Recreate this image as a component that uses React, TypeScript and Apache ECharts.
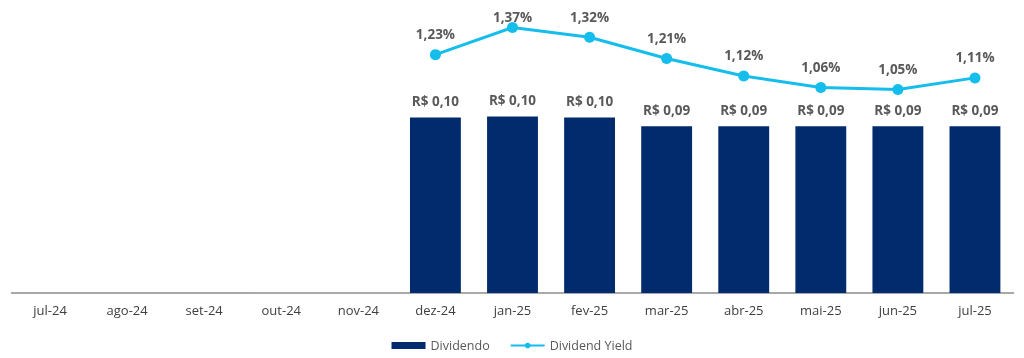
import React, { useEffect, useRef } from "react";
import * as echarts from "echarts";

const categories = ["jul-24", "ago-24", "set-24", "out-24", "nov-24", "dez-24", "jan-25", "fev-25", "mar-25", "abr-25", "mai-25", "jun-25", "jul-25"];
const dividendo: (number | null)[] = [null, null, null, null, null, 0.1, 0.1005, 0.1, 0.0949, 0.0949, 0.0949, 0.0949, 0.0949];
const dividendLabels = ["", "", "", "", "", "R$ 0,10", "R$ 0,10", "R$ 0,10", "R$ 0,09", "R$ 0,09", "R$ 0,09", "R$ 0,09", "R$ 0,09"];
const dividendYield: (number | null)[] = [null, null, null, null, null, 1.23, 1.37, 1.32, 1.21, 1.12, 1.06, 1.05, 1.11];

const FONT = "'Open Sans', 'Liberation Sans', sans-serif";

export default function App() {
  const ref = useRef<HTMLDivElement>(null);
  useEffect(() => {
    if (!ref.current) return;
    const chart = echarts.init(ref.current, undefined, { renderer: "svg" });
    const maxYield = Math.max(...(dividendYield.filter((v) => v != null) as number[]));
    const yieldData = dividendYield.map((v) =>
      v === maxYield ? { value: v, label: { distance: -2 } } : v
    );
    chart.setOption({
      animation: false,
      textStyle: { fontFamily: FONT },
      grid: { left: 11.5, right: 10.5, top: 12, bottom: 65 },
      legend: {
        bottom: 1,
        left: "center",
        itemWidth: 34,
        itemHeight: 7,
        itemGap: 20,
        textStyle: { color: "#595959", fontSize: 12.5, fontFamily: FONT },
        data: [
          { name: "Dividendo", icon: "rect" },
          { name: "Dividend Yield" },
        ],
      },
      xAxis: {
        type: "category",
        data: categories,
        axisLine: { lineStyle: { color: "#8c8c8c", width: 1.5 } },
        axisTick: { show: false },
        axisLabel: { color: "#404040", fontSize: 13, margin: 10, fontFamily: FONT },
      },
      yAxis: [
        { type: "value", min: 0, max: 0.16, show: false, splitLine: { show: false } },
        { type: "value", min: 0, max: 1.45, show: false, splitLine: { show: false } },
      ],
      series: [
        {
          name: "Dividendo",
          type: "bar",
          yAxisIndex: 0,
          data: dividendo,
          barWidth: "66%",
          itemStyle: { color: "#022b6e" },
          label: {
            show: true,
            position: "top",
            distance: 9,
            color: "#595959",
            fontWeight: "bold",
            fontSize: 13.5,
            fontFamily: FONT,
            formatter: (p: any) => dividendLabels[p.dataIndex],
          },
        },
        {
          name: "Dividend Yield",
          type: "line",
          yAxisIndex: 1,
          data: yieldData,
          symbol: "circle",
          symbolSize: 11,
          lineStyle: { color: "#14bdec", width: 3 },
          itemStyle: { color: "#14bdec" },
          label: {
            show: true,
            position: "top",
            distance: 8,
            color: "#595959",
            fontWeight: "bold",
            fontSize: 13.5,
            fontFamily: FONT,
            formatter: (p: any) => Number(p.value).toFixed(2).replace(".", ",") + "%",
          },
        },
      ],
    });
    return () => chart.dispose();
  }, []);
  return <div ref={ref} style={{ position: "fixed", left: 0, top: 0, width: 1024, height: 358 }} />;
}
